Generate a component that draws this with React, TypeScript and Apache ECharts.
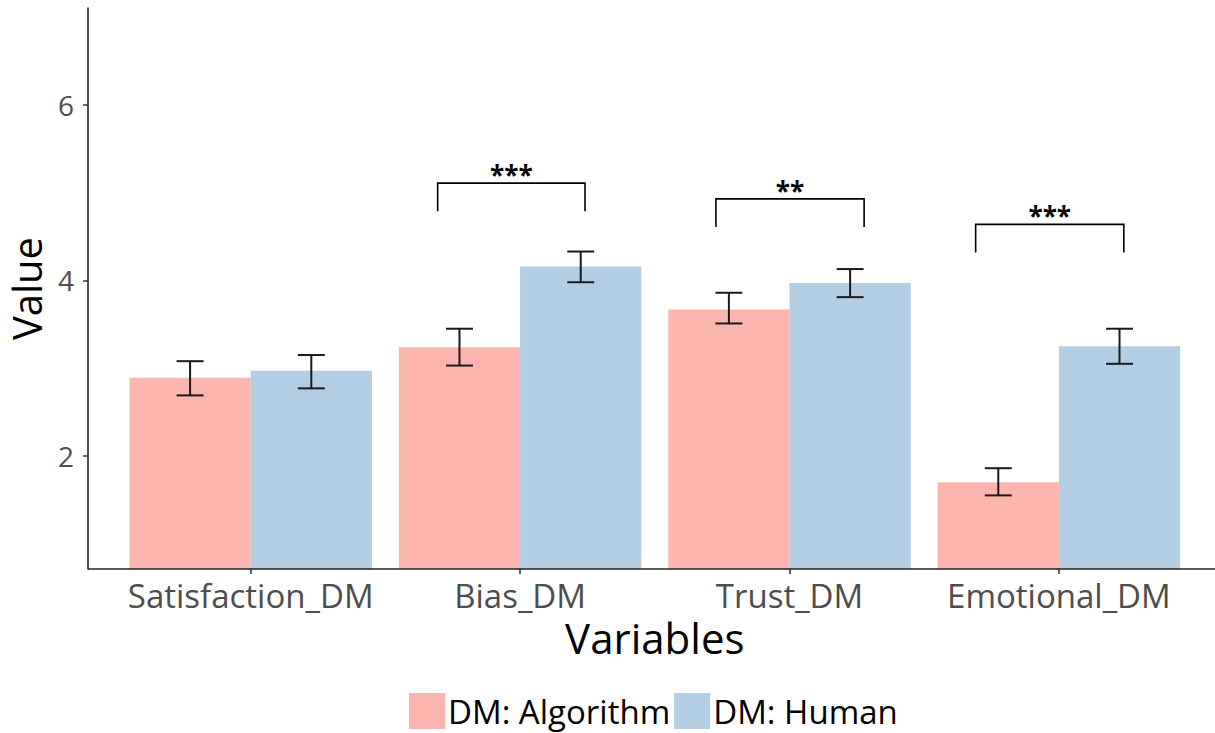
import React, { useEffect, useRef } from "react";
import * as echarts from "echarts";

// Means and 95% interval bounds per decision-maker condition
const categories = ["Satisfaction_DM", "Bias_DM", "Trust_DM", "Emotional_DM"];
const algorithmMeans = [2.89, 3.24, 3.67, 1.7];
const humanMeans = [2.97, 4.16, 3.97, 3.25];
const algorithmLower = [2.69, 3.03, 3.51, 1.55];
const algorithmUpper = [3.08, 3.45, 3.86, 1.86];
const humanLower = [2.77, 3.98, 3.81, 3.05];
const humanUpper = [3.15, 4.33, 4.13, 3.45];
const yTicks = [2, 4, 6];

// Significance brackets: category index, leg bottom, bracket top, label
const sigCategory = [1, 2, 3];
const sigLegBottom = [4.79, 4.61, 4.32];
const sigTop = [5.11, 4.93, 4.64];
const sigLabel = ["***", "**", "***"];
// Horizontal span of each bracket, in category-band units around the band centre
const sigSpan = [
  [-0.306, 0.241],
  [-0.273, 0.277],
  [-0.309, 0.241],
];

const FONT = "Open Sans";
const GRID = { left: 116, right: 21.4, top: 8, bottom: 164 };
const CHART_W = 1215;
const CHART_H = 733;

function errorBarSeries(name: string, lower: number[], upper: number[], side: number) {
  return {
    type: "custom",
    name,
    silent: true,
    z: 5,
    encode: { x: 0, y: [1, 2] },
    data: categories.map((_, i) => [i, lower[i], upper[i]]),
    renderItem: (_params: any, api: any) => {
      const band = api.size([1, 0])[0];
      const top = api.coord([api.value(0), api.value(2)]);
      const bottom = api.coord([api.value(0), api.value(1)]);
      const cx = top[0] + side * band * 0.225;
      const half = band * 0.05;
      const style = { stroke: "#1a1a1a", lineWidth: 2 };
      return {
        type: "group",
        children: [
          { type: "line", shape: { x1: cx, y1: top[1], x2: cx, y2: bottom[1] }, style },
          { type: "line", shape: { x1: cx - half, y1: top[1], x2: cx + half, y2: top[1] }, style },
          { type: "line", shape: { x1: cx - half, y1: bottom[1], x2: cx + half, y2: bottom[1] }, style },
        ],
      };
    },
  };
}

function bracketSeries() {
  return {
    type: "custom",
    silent: true,
    z: 6,
    encode: { x: 0, y: [1, 2] },
    data: sigCategory.map((c, i) => [c, sigLegBottom[i], sigTop[i], i]),
    renderItem: (_params: any, api: any) => {
      const idx = api.value(3);
      const band = api.size([1, 0])[0];
      const top = api.coord([api.value(0), api.value(2)]);
      const leg = api.coord([api.value(0), api.value(1)]);
      const x1 = top[0] + sigSpan[idx][0] * band;
      const x2 = top[0] + sigSpan[idx][1] * band;
      const style = { stroke: "#000", lineWidth: 1.6, fill: "none" };
      return {
        type: "group",
        children: [
          {
            type: "polyline",
            shape: { points: [[x1, leg[1]], [x1, top[1]], [x2, top[1]], [x2, leg[1]]] },
            style,
          },
          {
            type: "text",
            x: (x1 + x2) / 2,
            y: top[1] - 8,
            style: {
              text: sigLabel[idx],
              fontFamily: FONT,
              fontSize: 26,
              fontWeight: "bold",
              fill: "#000",
              align: "center",
              verticalAlign: "middle",
            },
          },
        ],
      };
    },
  };
}

export default function App() {
  const ref = useRef<HTMLDivElement>(null);

  useEffect(() => {
    document.body.style.margin = "0";
    if (!ref.current) return;
    const chart = echarts.init(ref.current, null, { renderer: "svg" });
    const baseY = CHART_H - GRID.bottom;
    chart.setOption({
      animation: false,
      backgroundColor: "#fff",
      grid: { ...GRID, containLabel: false, outerBoundsMode: "none" },
      legend: {
        bottom: -1,
        left: 404,
        icon: "rect",
        itemWidth: 36,
        itemHeight: 36,
        itemGap: 4,
        textStyle: {
          fontFamily: FONT,
          fontSize: 33,
          lineHeight: 36,
          color: "#000",
          padding: [0, 0, 0, -2],
        },
        data: ["DM: Algorithm", "DM: Human"],
      },
      xAxis: {
        type: "category",
        data: categories,
        name: "Variables",
        nameLocation: "middle",
        nameGap: 42,
        nameTextStyle: { fontFamily: FONT, fontSize: 42, color: "#000" },
        axisLine: { show: false },
        axisTick: { show: true, alignWithLabel: true, length: 5, lineStyle: { color: "#333", width: 1.5 } },
        axisLabel: { fontFamily: FONT, fontSize: 33, color: "#4d4d4d", margin: 10, interval: 0 },
        splitLine: { show: false },
      },
      yAxis: {
        type: "value",
        min: 0.711,
        max: 7.106,
        offset: GRID.left - 88,
        name: "Value",
        nameLocation: "middle",
        nameRotate: 90,
        nameGap: 42,
        nameTextStyle: { fontFamily: FONT, fontSize: 40, color: "#000" },
        axisLine: { show: true, lineStyle: { color: "#222", width: 1.6 } },
        axisTick: { show: true, length: 5, customValues: yTicks, lineStyle: { color: "#333", width: 1.5 } },
        axisLabel: { fontFamily: FONT, fontSize: 28, color: "#4d4d4d", margin: 14, customValues: yTicks },
        splitLine: { show: false },
      },
      graphic: [
        {
          type: "line",
          shape: { x1: 88, y1: baseY, x2: CHART_W, y2: baseY },
          style: { stroke: "#222", lineWidth: 1.6 },
          z: 10,
        },
      ],
      series: [
        {
          type: "bar",
          name: "DM: Algorithm",
          data: algorithmMeans,
          barGap: "0%",
          barCategoryGap: "10%",
          itemStyle: { color: "#FBB4AE" },
        },
        {
          type: "bar",
          name: "DM: Human",
          data: humanMeans,
          barGap: "0%",
          barCategoryGap: "10%",
          itemStyle: { color: "#B3CDE3" },
        },
        errorBarSeries("algErr", algorithmLower, algorithmUpper, -1),
        errorBarSeries("humErr", humanLower, humanUpper, 1),
        bracketSeries(),
      ],
    });
    return () => chart.dispose();
  }, []);

  return (
    <div
      ref={ref}
      style={{ position: "fixed", left: 0, top: 0, width: CHART_W, height: CHART_H }}
    />
  );
}
